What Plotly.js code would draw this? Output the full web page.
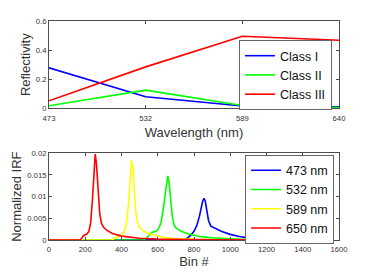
<!DOCTYPE html>
<html>
<head>
<meta charset="utf-8">
<script src="https://cdn.plot.ly/plotly-3.0.1.min.js"></script>
<style>html,body{margin:0;padding:0;background:#fff;}#chart{width:374px;height:278px;}</style>
</head>
<body>
<div id="chart"></div>
<script>
// Top panel: reflectivity per class
var wavelengths = ['473', '532', '589', '640'];
var classI = [0.278, 0.080, 0.016, 0.010];
var classII = [0.018, 0.125, 0.020, 0.005];
var classIII = [0.052, 0.285, 0.495, 0.468];

// Bottom panel: normalized IRF per wavelength
var bin473 = [0, 730, 745, 760, 780, 800, 815, 830, 840, 848, 855, 862, 870, 880, 893, 910, 950, 1000, 1050, 1100, 1150, 1200, 1300, 1500];
var irf473 = [0, 0, 0.0001, 0.0003, 0.0010, 0.0020, 0.0033, 0.0055, 0.0075, 0.0090, 0.0096, 0.0090, 0.0070, 0.0045, 0.0032, 0.0028, 0.0020, 0.0013, 0.0008, 0.0005, 0.0003, 0.0002, 0.0001, 0];
var bin532 = [0, 520, 535, 550, 565, 580, 595, 610, 620, 630, 640, 648, 655, 662, 670, 680, 690, 700, 730, 770, 830, 900, 1000, 1100, 1300, 1500];
var irf532 = [0, 0, 0.0003, 0.0010, 0.0017, 0.0019, 0.0021, 0.0030, 0.0045, 0.0070, 0.0105, 0.0135, 0.0148, 0.0135, 0.0095, 0.0055, 0.0035, 0.0028, 0.0020, 0.0014, 0.0008, 0.0005, 0.0003, 0.0001, 0.00005, 0];
var bin589 = [0, 345, 360, 375, 390, 405, 420, 430, 440, 448, 455, 462, 470, 480, 490, 500, 520, 550, 600, 650, 700, 800, 1000, 1500];
var irf589 = [0, 0, 0.0003, 0.0006, 0.0009, 0.0013, 0.0025, 0.0045, 0.0090, 0.0150, 0.0184, 0.0165, 0.0110, 0.0060, 0.0038, 0.0029, 0.0021, 0.0015, 0.0009, 0.0005, 0.0003, 0.00015, 0.00005, 0];
var bin650 = [0, 170, 180, 190, 200, 210, 220, 230, 240, 248, 255, 262, 270, 280, 290, 300, 320, 350, 400, 450, 500, 600, 700, 900, 1500];
var irf650 = [0, 0, 0.0004, 0.0010, 0.0012, 0.0014, 0.0020, 0.0040, 0.0095, 0.0165, 0.0198, 0.0175, 0.0110, 0.0060, 0.0038, 0.0030, 0.0022, 0.0015, 0.0009, 0.0006, 0.0004, 0.0002, 0.0001, 0.00005, 0];

var lw = 1.6;
var traces = [
  {x: wavelengths, y: classI, name: 'Class I', type: 'scatter', mode: 'lines', line: {color: '#0000ff', width: lw}, xaxis: 'x', yaxis: 'y', legend: 'legend'},
  {x: wavelengths, y: classII, name: 'Class II', type: 'scatter', mode: 'lines', line: {color: '#00ff00', width: lw}, xaxis: 'x', yaxis: 'y', legend: 'legend'},
  {x: wavelengths, y: classIII, name: 'Class III', type: 'scatter', mode: 'lines', line: {color: '#ff0000', width: lw}, xaxis: 'x', yaxis: 'y', legend: 'legend'},
  {x: bin473, y: irf473, name: '473 nm', type: 'scatter', mode: 'lines', line: {color: '#0000ff', width: lw}, xaxis: 'x2', yaxis: 'y2', legend: 'legend2'},
  {x: bin532, y: irf532, name: '532 nm', type: 'scatter', mode: 'lines', line: {color: '#00ff00', width: lw}, xaxis: 'x2', yaxis: 'y2', legend: 'legend2'},
  {x: bin589, y: irf589, name: '589 nm', type: 'scatter', mode: 'lines', line: {color: '#ffff00', width: lw}, xaxis: 'x2', yaxis: 'y2', legend: 'legend2'},
  {x: bin650, y: irf650, name: '650 nm', type: 'scatter', mode: 'lines', line: {color: '#ff0000', width: lw}, xaxis: 'x2', yaxis: 'y2', legend: 'legend2'}
];

var axColor = '#4d4d4d';
var tickFont = {family: 'Liberation Sans, Arial, sans-serif', size: 7.7, color: '#333'};
var titleFont = {family: 'Liberation Sans, Arial, sans-serif', size: 13, color: '#333'};
function axisBase() {
  return {showline: true, linecolor: axColor, linewidth: 1, mirror: 'ticks', ticks: 'inside', ticklen: 3,
    tickcolor: axColor, tickwidth: 1, showgrid: false, zeroline: false, tickfont: tickFont, fixedrange: true};
}

var layout = {
  width: 374, height: 278,
  margin: {l: 49, r: 35, t: 21, b: 38},
  paper_bgcolor: '#fff', plot_bgcolor: '#fff',
  font: {family: 'Liberation Sans, Arial, sans-serif', color: '#222'},
  xaxis: Object.assign(axisBase(), {domain: [0, 1], anchor: 'y', type: 'category', range: [0, 3],
    ticklabelstandoff: 2,
    title: {text: 'Wavelength (nm)', font: titleFont, standoff: 6}}),
  yaxis: Object.assign(axisBase(), {domain: [0.601, 1], anchor: 'x', range: [0, 0.6],
    tickvals: [0, 0.2, 0.4, 0.6], ticktext: ['0', '0.2', '0.4', '0.6'],
    title: {text: 'Reflectivity', font: titleFont, standoff: 2}}),
  xaxis2: Object.assign(axisBase(), {domain: [0, 1], anchor: 'y2', range: [0, 1600],
    ticklabelstandoff: 2,
    tickvals: [0, 200, 400, 600, 800, 1000, 1200, 1400, 1600],
    ticktext: ['0', '200', '400', '600', '800', '1000', '1200', '1400', '1600'],
    title: {text: 'Bin #', font: titleFont, standoff: 0}}),
  yaxis2: Object.assign(axisBase(), {domain: [0, 0.396], anchor: 'x2', range: [0, 0.02],
    tickvals: [0, 0.005, 0.01, 0.015, 0.02], ticktext: ['0', '0.005', '0.01', '0.015', '0.02'],
    title: {text: 'Normalized IRF', font: titleFont, standoff: 2}}),
  legend: {x: 0.655, y: 0.913, xanchor: 'left', yanchor: 'top', bgcolor: '#fff', bordercolor: '#666', borderwidth: 1,
    font: {family: 'Liberation Sans, Arial, sans-serif', size: 12.5, color: '#111'}, itemwidth: 30, tracegroupgap: 0},
  legend2: {x: 0.676, y: 0.39, xanchor: 'left', yanchor: 'top', bgcolor: '#fff', bordercolor: '#666', borderwidth: 1,
    font: {family: 'Liberation Sans, Arial, sans-serif', size: 12.5, color: '#111'}, itemwidth: 30, tracegroupgap: 0},
  showlegend: true
};

Plotly.newPlot('chart', traces, layout, {displayModeBar: false, staticPlot: true});
</script>
</body>
</html>
